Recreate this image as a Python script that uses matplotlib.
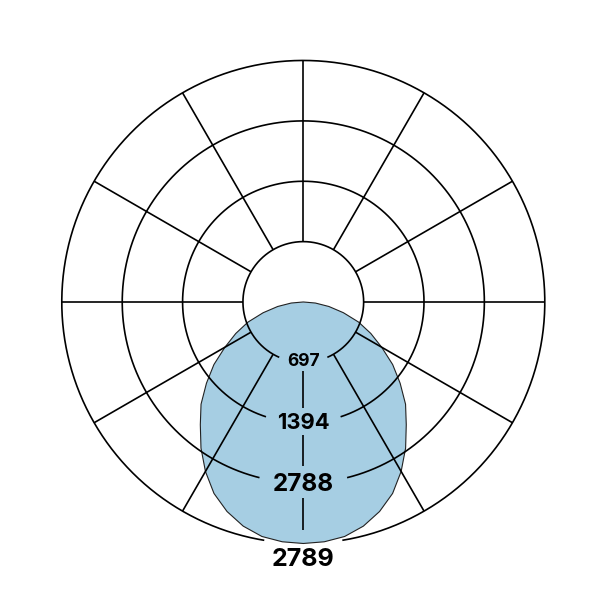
import numpy as np
import matplotlib.pyplot as plt

# Luminous intensity (cd) vs angle from nadir (degrees), symmetric
angles_deg = [0, 5, 10, 15, 20, 25, 30, 35, 40, 45, 50, 55, 60, 65, 70, 75, 80, 85, 90]
intensity = [2789, 2780, 2750, 2680, 2575, 2440, 2260, 2060, 1850, 1670,
             1460, 1260, 1045, 860, 680, 480, 300, 140, 0]

ring_values = [697, 1394, 2091, 2789]
ring_labels = ["697", "1394", "2788", "2789"]
spoke_angles = list(range(30, 360, 30))

# layout (not data)
R_MAX = 2789.0
PX = R_MAX / 241.0                      # value units per pixel
label_baseline_px = [64.0, 126.3, 189.0, 263.0]
label_sizes = [12.6, 15.8, 17.5, 18.0]
ring_gap_deg = [23.5, 18.0, 14.0, 9.3]
nadir_segments_px = [(69.0, 106.3), (133.0, 164.0), (196.0, 228.0)]

fig = plt.figure(figsize=(6.01, 6.01), dpi=100)
ax = fig.add_axes([0.1028, 0.0957, 0.8037, 0.8037], projection='polar')
ax.set_theta_zero_location('S')
ax.set_ylim(0, R_MAX)
ax.axis('off')

a = np.array(angles_deg, dtype=float)
v = np.array(intensity, dtype=float)
th = np.deg2rad(np.concatenate([-a[::-1], a[1:]]))
rr = np.concatenate([v[::-1], v[1:]])
ax.fill(th, rr, facecolor='#a6cee3', edgecolor='#222222', lw=0.8, zorder=1, clip_on=False)

for rv, g in zip(ring_values, ring_gap_deg):
    t = np.deg2rad(np.linspace(g, 360 - g, 720))
    ax.plot(t, np.full_like(t, rv), color='black', lw=1.2, zorder=3, clip_on=False,
            solid_capstyle='butt')
for sa in spoke_angles:
    ang = np.deg2rad(sa)
    ax.plot([ang, ang], [ring_values[0], ring_values[-1]], color='black', lw=1.2,
            zorder=3, clip_on=False, solid_capstyle='butt')
for r0, r1 in nadir_segments_px:
    ax.plot([0, 0], [r0 * PX, r1 * PX], color='black', lw=1.2, zorder=3,
            clip_on=False, solid_capstyle='butt')

for lab, bpx, fs in zip(ring_labels, label_baseline_px, label_sizes):
    ax.text(0, bpx * PX, lab, ha='center', va='baseline', fontsize=fs, fontweight='bold',
            family=['Inter', 'DejaVu Sans'], zorder=5, clip_on=False)

fig.savefig('out.png', dpi=100)
